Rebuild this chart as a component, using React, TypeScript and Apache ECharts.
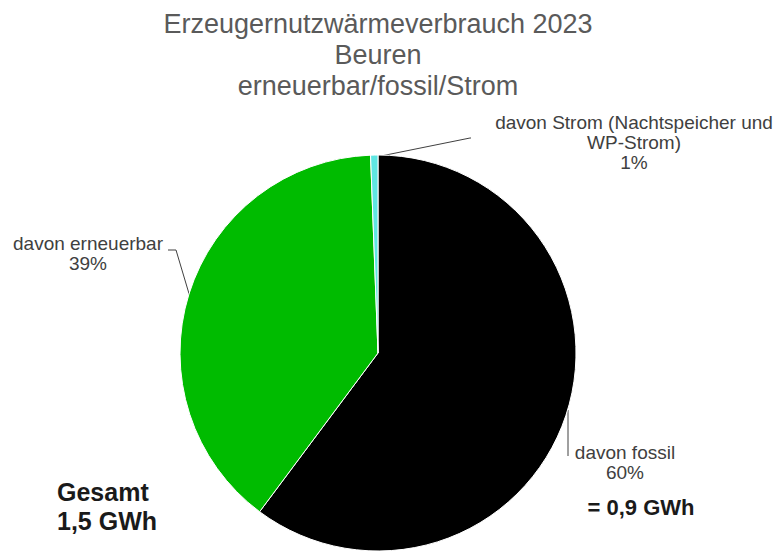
import React, { useEffect, useRef } from "react";
import * as echarts from "echarts";

const categories = [
  "davon fossil",
  "davon erneuerbar",
  "davon Strom (Nachtspeicher und\nWP-Strom)",
];
const shares = [60.2, 39.2, 0.6];
const sliceColors = ["#000000", "#00bb00", "#5fe6e2"];
const titleLines = ["Erzeugernutzwärmeverbrauch 2023", "Beuren", "erneuerbar/fossil/Strom"];
const totalText = ["Gesamt", "1,5 GWh"];
const fossilText = "= 0,9 GWh";

const labelSpots = [
  { x: 625, y: 442, line: [[568, 410], [568, 440], [568, 456]] },
  { x: 88, y: 233, line: [[190, 297], [176, 250], [168, 250]] },
  { x: 634, y: 112, line: [[376, 157], [470, 138], [471, 138]] },
];

export default function App() {
  const ref = useRef<HTMLDivElement>(null);
  useEffect(() => {
    if (!ref.current) return;
    const chart = echarts.init(ref.current, null, { renderer: "svg" });
    const font = "'Liberation Sans', Arial, sans-serif";
    chart.setOption({
      animation: false,
      backgroundColor: "#ffffff",
      title: [
        {
          text: titleLines.join("\n"),
          left: 378,
          top: 8,
          padding: 0,
          textAlign: "center",
          textStyle: {
            color: "#5a5a5a",
            fontSize: 27,
            fontWeight: "normal",
            lineHeight: 31,
            fontFamily: font,
          },
        },
        {
          text: totalText.join("\n"),
          left: 57,
          top: 477,
          padding: 0,
          textStyle: {
            color: "#1a1a1a",
            fontSize: 25,
            fontWeight: "bold",
            lineHeight: 29,
            fontFamily: font,
          },
        },
        {
          text: fossilText,
          left: 641,
          top: 496,
          padding: 0,
          textAlign: "center",
          textStyle: {
            color: "#1a1a1a",
            fontSize: 22,
            fontWeight: "bold",
            fontFamily: font,
          },
        },
      ],
      series: [
        {
          type: "pie",
          center: [378, 353],
          radius: 198,
          startAngle: 90,
          clockwise: true,
          avoidLabelOverlap: false,
          itemStyle: { borderColor: "#ffffff", borderWidth: 1 },
          data: categories.map((name, i) => ({
            name,
            value: shares[i],
            itemStyle: { color: sliceColors[i] },
          })),
          label: {
            show: true,
            position: "outside",
            color: "#404040",
            fontSize: 19,
            lineHeight: 20,
            fontFamily: font,
            align: "center",
            formatter: (p: any) => `${p.name}\n${Math.round(p.percent)}%`,
          },
          labelLine: {
            show: true,
            smooth: false,
            lineStyle: { color: "#404040", width: 1 },
          },
          labelLayout: (params: any) => {
            const s = labelSpots[params.dataIndex];
            return {
              x: s.x,
              y: s.y,
              align: "center",
              verticalAlign: "top",
              labelLinePoints: s.line,
            };
          },
        },
      ],
    });
    return () => chart.dispose();
  }, []);
  return (
    <div
      ref={ref}
      style={{ position: "fixed", left: 0, top: 0, width: 775, height: 552 }}
    />
  );
}
